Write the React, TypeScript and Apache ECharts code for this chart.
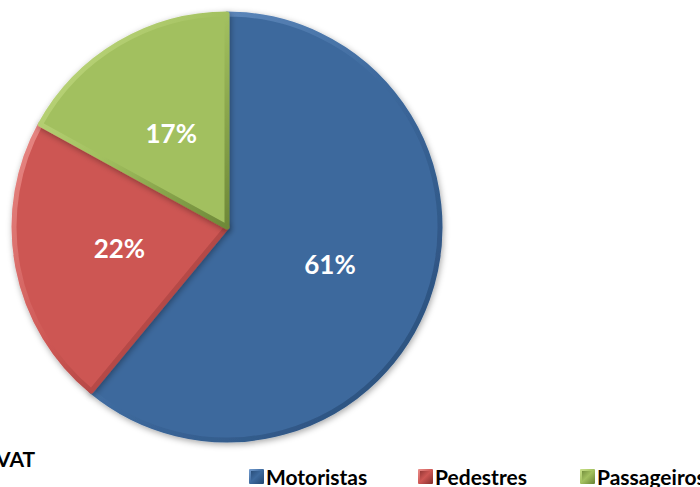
import React, { useEffect, useRef } from "react";
import * as echarts from "echarts";

const categories = ["Motoristas", "Pedestres", "Passageiros"];
const values = [61, 22, 17];
const colors = ["#3D699D", "#CD5653", "#A2C05F"];
const lightColors = ["#6F98CB", "#E88A86", "#C6DE86"];
const darkColors = ["#264A75", "#8C3331", "#6E8838"];
const legendLefts = [249, 418, 580];

export default function App() {
  const ref = useRef<HTMLDivElement>(null);
  useEffect(() => {
    if (!ref.current) return;
    const chart = echarts.init(ref.current, undefined, { renderer: "svg" });
    const font = "Lato, 'Open Sans', sans-serif";
    const data = categories.map((name, i) => ({
      name,
      value: values[i],
      itemStyle: {
        color: colors[i],
        borderColor: new echarts.graphic.LinearGradient(0, 0, 1, 1, [
          { offset: 0, color: lightColors[i] },
          { offset: 0.5, color: colors[i] },
          { offset: 1, color: darkColors[i] },
        ]),
        borderWidth: 5,
        borderJoin: "round",
      },
    }));
    chart.setOption({
      animation: false,
      backgroundColor: "#ffffff",
      legend: categories.map((name, i) => ({
        data: [
          {
            name,
            itemStyle: {
              color: new echarts.graphic.LinearGradient(0, 0, 1, 1, [
                { offset: 0, color: darkColors[i] },
                { offset: 0.5, color: colors[i] },
                { offset: 1, color: darkColors[i] },
              ]),
            },
          },
        ],
        left: legendLefts[i],
        top: 466,
        icon: "rect",
        itemWidth: 13,
        itemHeight: 13,
        itemGap: 4,
        padding: 0,
        textStyle: {
          fontFamily: font,
          fontWeight: "bold",
          fontSize: 21,
          color: "#000000",
          padding: [0, 0, 0, -2],
        },
      })),
      graphic: [
        {
          type: "text",
          left: -4,
          top: 448,
          style: {
            text: "VAT",
            fontFamily: font,
            fontWeight: "bold",
            fontSize: 21,
            fill: "#000000",
          },
        },
      ],
      series: [
        {
          type: "pie",
          center: [227, 227],
          radius: [0, 213],
          startAngle: 90,
          clockwise: true,
          data,
          itemStyle: {
            shadowBlur: 6,
            shadowColor: "rgba(0,0,0,0.35)",
            shadowOffsetX: 1,
            shadowOffsetY: 2,
          },
          label: {
            show: true,
            position: "inside",
            formatter: "{c}%",
            color: "#ffffff",
            fontFamily: font,
            fontWeight: "bold",
            fontSize: 26,
          },
          labelLine: { show: false },
          emphasis: { disabled: true },
        },
      ],
    });
    return () => chart.dispose();
  }, []);
  return (
    <div
      ref={ref}
      style={{ position: "fixed", left: 0, top: 0, width: 700, height: 487 }}
    />
  );
}
